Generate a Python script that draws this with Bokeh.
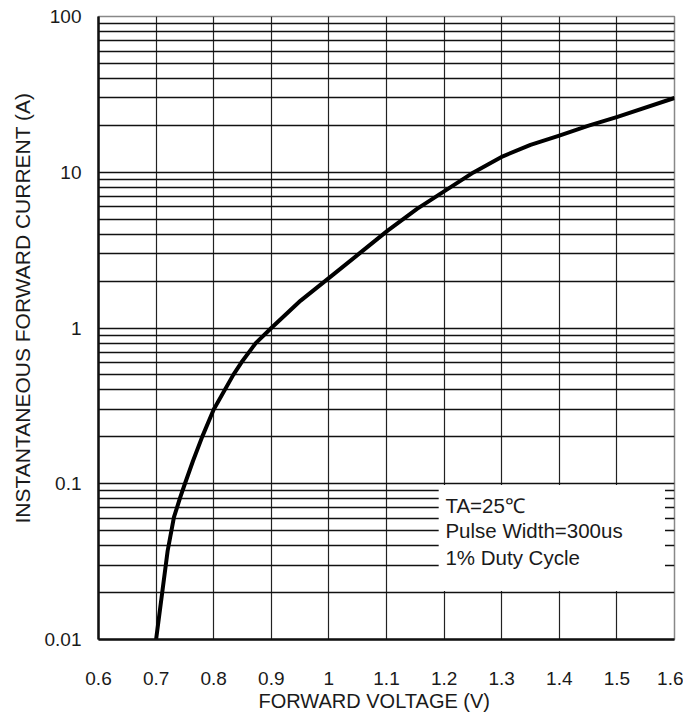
from bokeh.plotting import figure
from bokeh.models import FixedTicker, Label, Title
from bokeh.embed import file_html
from bokeh.resources import INLINE

# ---- data ----
VOLTAGE = [0.700, 0.720, 0.731, 0.742, 0.750, 0.764, 0.780, 0.800, 0.834, 0.848,
           0.873, 0.900, 0.951, 1.002, 1.052, 1.102, 1.153, 1.202, 1.251, 1.302,
           1.350, 1.400, 1.451, 1.501, 1.600]
CURRENT = [0.010, 0.037, 0.061, 0.082, 0.100, 0.140, 0.200, 0.300, 0.500, 0.600,
           0.800, 1.000, 1.50, 2.12, 2.99, 4.22, 5.82, 7.62, 9.98, 12.65,
           15.0, 17.2, 19.9, 22.7, 30.0]

X_TICKS = [0.6, 0.7, 0.8, 0.9, 1.0, 1.1, 1.2, 1.3, 1.4, 1.5, 1.6]
X_LABELS = ["0.6", "0.7", "0.8", "0.9", "1", "1.1", "1.2", "1.3", "1.4", "1.5", "1.6"]
Y_TICKS = [0.01, 0.1, 1, 10, 100]
Y_LABELS = ["0.01", "0.1", "1", "10", "100"]
Y_MINOR = [m * 10.0 ** e for e in range(-2, 2) for m in range(2, 10)]

NOTE_LINES = ["TA=25\u2103", "Pulse Width=300us", "1% Duty Cycle"]
X_TITLE = "FORWARD VOLTAGE (V)"
Y_TITLE = "INSTANTANEOUS FORWARD CURRENT (A)"

FONT = "Liberation Sans"
TXT = "#1a1a1a"

p = figure(width=683, height=719, output_backend="svg", toolbar_location=None,
           y_axis_type="log", x_range=(0.6, 1.6), y_range=(0.01, 100),
           min_border_left=97, min_border_right=9, min_border_top=16,
           min_border_bottom=80)
p.background_fill_color = "white"
p.border_fill_color = "white"
p.outline_line_color = "#888888"
p.outline_line_width = 1.5

# axes
p.xaxis.ticker = FixedTicker(ticks=X_TICKS)
p.xaxis.major_label_overrides = dict(zip(X_TICKS, X_LABELS))
p.yaxis.ticker = FixedTicker(ticks=Y_TICKS, minor_ticks=Y_MINOR)
p.yaxis.major_label_overrides = dict(zip(Y_TICKS, Y_LABELS))
for ax in (p.xaxis, p.yaxis):
    ax.axis_line_color = "#111111"
    ax.axis_line_width = 2.5
    ax.major_tick_in = 0
    ax.major_tick_out = 0
    ax.minor_tick_in = 0
    ax.minor_tick_out = 0
    ax.major_label_text_font = FONT
    ax.major_label_text_font_size = "19px"
    ax.major_label_text_color = TXT
p.xaxis.major_label_standoff = 32
p.yaxis.major_label_standoff = 17

# grid
p.xgrid.ticker = FixedTicker(ticks=X_TICKS)
p.xgrid.grid_line_color = "#222222"
p.xgrid.grid_line_width = 1.2
p.ygrid.grid_line_color = "#111111"
p.ygrid.grid_line_width = 1.3
p.ygrid.minor_grid_line_color = "#111111"
p.ygrid.minor_grid_line_width = 1.3

# white note box covering the grid
p.quad(left=1.1906, right=1.5835, bottom=0.0205, top=0.098,
       fill_color="white", line_color=None)

# curve
p.line(VOLTAGE, CURRENT, line_width=4, line_color="black", line_join="round")

# note text
note_y = [0.0727, 0.0502, 0.0335]
for t, yy in zip(NOTE_LINES, note_y):
    p.add_layout(Label(x=1.2023, y=yy, text=t, text_font=FONT,
                       text_font_size="20.5px", text_color=TXT,
                       text_baseline="middle", text_align="left"))

# axis titles
p.add_layout(Title(text=Y_TITLE, align="left", offset=116, standoff=16,
                   text_font=FONT, text_font_size="21px", text_font_style="normal",
                   text_color=TXT), "left")
p.add_layout(Title(text=X_TITLE, align="left", offset=160, standoff=0,
                   text_font=FONT, text_font_size="20px", text_font_style="normal",
                   text_color=TXT), "below")

open("out.html", "w").write(file_html(p, INLINE))
